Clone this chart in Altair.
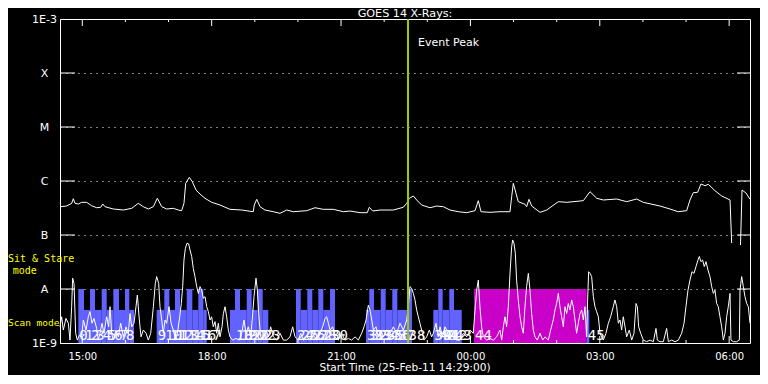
import altair as alt
import pandas as pd

TITLE = "GOES 14 X-Rays:"
X_TITLE = "Start Time (25-Feb-11 14:29:00)"
EVENT_TEXT = "Event Peak"

# GOES 14 flux: (minutes after 25-Feb-11 14:29:00, W/m^2); None = data gap
goes_points = [
    (0, 3.34e-7), (9.3, 3.44e-7), (16.3, 3.86e-7), (18.5, 4.7e-7), (20.9, 3.86e-7),
    (25.5, 3.75e-7), (30.2, 4.03e-7), (37.1, 4.03e-7), (44.1, 3.48e-7), (51.1, 3.2e-7),
    (56.6, 3.26e-7), (59.4, 3.75e-7), (62.6, 3.34e-7), (74.2, 3.03e-7), (88.1, 2.9e-7),
    (99.8, 3.12e-7), (108.9, 3.86e-7), (115.9, 3.34e-7), (122.9, 3.03e-7), (129.8, 3.34e-7),
    (135.4, 4.78e-7), (141.5, 3.34e-7), (148.5, 3.03e-7), (157.6, 3.12e-7), (164.6, 2.9e-7),
    (169.3, 2.82e-7), (172.5, 3.86e-7), (174.9, 9.06e-7), (179.9, 1.17e-6), (184.1, 9.7e-7),
    (189.2, 6.8e-7), (194.8, 5.74e-7), (201.7, 4.78e-7), (211.1, 4.03e-7), (222.6, 3.59e-7),
    (236.5, 2.99e-7), (252.8, 2.9e-7), (268.9, 2.7e-7), (270.3, 3.59e-7), (273.7, 4.58e-7),
    (278.3, 3.34e-7), (285.2, 2.9e-7), (296.8, 2.7e-7), (306.1, 2.52e-7), (315.4, 2.9e-7),
    (324.6, 2.7e-7), (343.2, 2.82e-7), (354.8, 3.2e-7), (366.3, 2.99e-7), (380.2, 2.99e-7),
    (394.2, 2.7e-7), (403.5, 2.78e-7), (417.4, 2.59e-7), (427.5, 2.59e-7), (430.3, 3.26e-7),
    (435.1, 2.78e-7), (445.2, 2.9e-7), (463.7, 2.9e-7), (477.6, 3.26e-7), (482.4, 3.86e-7),
    (486.0, 4.78e-7), (491.6, 5.28e-7), (496.3, 4.45e-7), (503.2, 3.59e-7), (514.8, 3.2e-7),
    (524.1, 3.44e-7), (533.3, 3.34e-7), (542.6, 2.9e-7), (554.2, 2.7e-7), (565.8, 2.59e-7),
    (577.4, 2.82e-7), (582.0, 4.32e-7), (585.7, 2.7e-7), (598.3, 2.63e-7), (612.2, 2.7e-7),
    (626.1, 2.7e-7), (628.4, 5.12e-7), (630.7, 9.06e-7), (634.4, 5.92e-7), (637.6, 4.14e-7),
    (647.0, 3.7e-7), (649.3, 3.34e-7), (652.5, 4.58e-7), (656.3, 3.44e-7), (667.8, 2.63e-7),
    (677.1, 2.9e-7), (693.3, 4.14e-7), (705.0, 4.03e-7), (728.1, 4.32e-7), (737.4, 6.34e-7),
    (746.7, 4.78e-7), (755.9, 4.45e-7), (774.5, 4.64e-7), (788.4, 4.14e-7), (802.4, 4.64e-7),
    (811.5, 4.03e-7), (834.8, 3.44e-7), (848.7, 3.03e-7), (860.2, 2.7e-7), (871.9, 2.82e-7),
    (876.5, 4.45e-7), (881.1, 6.07e-7), (887.2, 6.18e-7), (891.8, 8.8e-7), (897.4, 8.19e-7),
    (902.0, 8.69e-7), (911.3, 6.61e-7), (920.6, 5.28e-7), (932.2, 4.45e-7), (934.5, 7.1e-8),
    (940.0, None), (946.8, 6.5e-8), (948.9, 6.8e-7), (954.4, 6.0e-7), (960.0, 4.58e-7),
]

# lower-panel count rate: (minutes after start, counts)
rate_points = [
    (0, 50), (2.3, 81), (4.6, 40), (8.3, 76), (11.6, 61), (13.9, 9), (16.2, 112), (17.6, 200),
    (19.5, 184), (21.8, 30), (24.1, 9), (26.9, 24), (30.1, 19), (32.5, 71), (36.2, 40), (39.4, 81),
    (41.7, 97), (44.5, 61), (47.3, 76), (51, 45), (53.3, 9), (55.7, 30), (58.4, 61), (61.2, 30),
    (64.9, 81), (67.7, 50), (69.6, 112), (71.9, 30), (74.2, 9), (77.9, 40), (81.2, 19), (84.4, 61),
    (88.1, 19), (91.8, 50), (95.1, 30), (97.4, 91), (99.7, 50), (103, 61), (105.7, 112), (107.6, 148),
    (110.4, 71), (112.7, 19), (116, 40), (119.7, 30), (122.9, 9), (126.2, 30), (129.9, 112), (132.6, 184),
    (134.5, 205), (137.3, 184), (139.1, 112), (141.5, 71), (143.8, 30), (146.1, 71), (148.4, 61), (151.7, 112),
    (154.5, 61), (157.7, 40), (160.5, 9), (163.3, 30), (166, 71), (168.8, 122), (170.7, 174), (172.5, 256),
    (174.4, 292), (176.7, 308), (179, 306), (180.9, 287), (183.2, 267), (185.5, 230), (187.8, 205), (190.2, 174),
    (192.5, 153), (194.8, 174), (197.1, 163), (199.4, 138), (201.8, 143), (204.1, 112), (206.4, 97), (208.7, 71),
    (211, 81), (213.3, 50), (215.7, 66), (218, 30), (220.3, 61), (222.6, 19), (225.4, 50), (227.3, 91),
    (229.6, 112), (231.9, 81), (234.2, 40), (236.5, 19), (240.2, 9), (244.9, 14), (249.5, 9), (252.8, 30),
    (256, 71), (258.8, 30), (262, 50), (265.3, 19), (268.1, 91), (269.9, 143), (272.7, 200), (274.6, 163),
    (276.4, 91), (279.2, 19), (282.9, 9), (286.6, 40), (289.9, 19), (293.1, 50), (296.8, 19), (301.5, 9),
    (306.1, 30), (310.7, 9), (315.4, 9), (320, 19), (323.7, 50), (327, 19), (331.6, 9), (334.9, 30),
    (338.6, 9), (343.2, 19), (347.9, 9), (352.5, 24), (357.1, 9), (361.8, 30), (365.5, 50), (368.7, 76),
    (371, 81), (373.4, 61), (375.7, 40), (379.4, 50), (382.6, 19), (387.3, 9), (391.9, 30), (396.5, 9),
    (401.2, 14), (405.8, 9), (410.5, 19), (415.1, 9), (419.7, 30), (423, 50), (425.8, 71), (429, 117),
    (431.3, 102), (433.7, 71), (436, 40), (439.7, 50), (442.9, 19), (446.2, 40), (449.9, 19), (454.5, 40),
    (459.2, 30), (463.8, 50), (468.4, 30), (473.1, 61), (477.7, 40), (482.4, 71),
    (484.6, 112), (486.9, 174), (489.2, 169), (491.6, 153), (493.9, 133), (496.2, 102), (498.5, 81), (500.8, 61),
    (503.1, 40), (506.4, 9), (510.1, 19), (513.8, 40), (517.1, 19), (519.4, 30), (523.1, 61), (526.3, 19),
    (528.7, 50), (532.4, 19), (535.6, 50), (537.9, 40), (541.6, 9), (544.9, 40), (547.2, 19), (551.8, 9),
    (556.5, 9), (561.1, 30), (565.8, 19), (570.4, 40), (575, 30), (577.8, 112), (579.7, 163), (582, 194),
    (584.3, 112), (586.6, 50), (589, 19), (593.6, 9), (598.2, 14), (602.9, 9), (607.5, 19), (612.1, 40),
    (614.5, 9), (616.8, 50), (619.1, 81), (621.4, 50), (623.7, 112), (626.1, 215), (628.4, 297), (629.8, 318),
    (631.6, 308), (633.5, 277), (635.3, 194), (637.6, 133), (640, 81), (642.3, 50), (644.6, 30), (646.9, 112),
    (649.2, 174), (651.6, 215), (653.9, 163), (656.2, 91), (658.5, 40), (660.8, 19), (664.1, 9), (667.8, 30),
    (671.5, 9), (674.8, 19), (679.4, 9), (682.6, 40), (686.3, 71), (688.7, 102), (691, 122), (693.3, 153),
    (695.6, 112), (697.9, 81), (700.3, 50), (702.6, 112), (704.9, 91), (707.2, 122), (709.5, 102), (711.9, 133),
    (714.2, 112), (716.5, 71), (718.8, 30), (721.1, 61), (723.5, 91), (725.8, 102), (728.1, 71), (730.4, 112),
    (732.7, 19), (734.1, 133), (735.5, 220), (737.4, 215), (739.7, 205), (742, 143), (744.3, 112), (746.6, 97),
    (749, 81), (751.3, 30), (753.6, 19), (755.9, 9), (759.6, 30), (762.9, 61), (766.1, 81), (769.8, 112),
    (772.1, 133), (774.5, 112), (776.8, 61), (779.1, 71), (781.4, 40), (783.7, 81), (786.1, 50), (788.4, 19),
    (792.1, 40), (795.4, 9), (798.6, 30), (801.4, 122), (803.3, 112), (805.1, 50), (807.9, 30), (811.6, 9),
    (816.2, 4), (820.9, 9), (825.5, 4), (829.2, 45), (831.1, 9), (834.8, 4), (839.4, 4), (844, 45),
    (846.4, 4), (851, 9), (855.6, 4), (860.3, 9), (864.9, 30), (868.2, 61), (870.9, 112), (873.7, 163),
    (876.5, 194), (879.3, 220), (882.1, 215), (884.9, 236), (887.6, 256), (889.5, 267), (891.8, 251), (894.1, 256),
    (896.4, 236), (898.8, 251), (901.6, 225), (904.3, 205), (906.7, 174), (909, 153), (911.3, 163), (913.6, 122),
    (915.9, 112), (918.2, 81), (920.6, 50), (922.9, 9), (925.2, 30), (927.5, 81), (929.8, 112), (932.2, 153),
    (933.5, 9), (936.8, 4), (941.4, 4), (945.2, 9), (946.1, 163), (948.4, 205), (950.7, 174), (953, 143),
    (955.4, 122), (957.7, 112), (960, 61),
]

# observing-mode segments: (start min, end min, level, kind)
mode_segments = [
    (25.5, 33.4, "full", "scan"), (33.4, 41.7, "half", "scan"), (41.7, 48.7, "full", "scan"),
    (48.7, 58.0, "half", "scan"), (58.0, 65.0, "full", "scan"), (65.0, 74.2, "half", "scan"),
    (74.2, 82.1, "full", "scan"), (82.1, 90.4, "half", "scan"), (90.4, 96.4, "full", "scan"),
    (96.4, 103.0, "half", "scan"),
    (134.5, 145.1, "half", "scan"), (145.1, 152.1, "full", "scan"), (152.1, 160.0, "half", "scan"),
    (160.0, 167.0, "full", "scan"), (167.0, 176.3, "half", "scan"), (176.3, 184.1, "full", "scan"),
    (184.1, 192.4, "half", "scan"), (192.4, 199.4, "full", "scan"), (199.4, 204.1, "half", "scan"),
    (236.5, 243.5, "half", "scan"), (243.5, 250.4, "full", "scan"), (250.4, 259.8, "half", "scan"),
    (259.8, 266.7, "full", "scan"), (266.7, 275.1, "half", "scan"), (275.1, 282.0, "full", "scan"),
    (282.0, 289.8, "half", "scan"),
    (328.3, 334.9, "full", "scan"), (334.9, 344.1, "half", "scan"), (344.1, 351.0, "full", "scan"),
    (351.0, 359.4, "half", "scan"), (359.4, 366.3, "full", "scan"), (366.3, 375.7, "half", "scan"),
    (375.7, 382.6, "full", "scan"),
    (425.7, 430.3, "half", "scan"), (430.3, 436.9, "full", "scan"), (436.9, 446.2, "half", "scan"),
    (446.2, 453.1, "full", "scan"), (453.1, 462.3, "half", "scan"), (462.3, 469.3, "full", "scan"),
    (469.3, 483.5, "half", "scan"), (483.5, 489.7, "full", "scan"),
    (519.4, 526.3, "half", "scan"), (526.3, 532.4, "full", "scan"), (532.4, 541.6, "half", "scan"),
    (541.6, 548.2, "full", "scan"), (548.2, 558.9, "half", "scan"),
    (576.0, 732.8, "full", "stare"),
    (732.8, 736.4, "half", "scan"),
]
mode_level_flux = {"full": 1e-8, "half": 4.1e-9}

# pointing numbers written at segment starts
label_minutes = [25.5, 33.4, 41.7, 48.7, 58.0, 65.0, 74.2, 82.1, 90.4,
                 134.5, 145.1, 152.1, 160.0, 167.0, 176.3, 184.1, 192.4, 199.4,
                 243.5, 250.4, 259.8, 266.7, 275.1, 282.0,
                 328.3, 334.9, 344.1, 351.0, 359.4, 366.3, 375.7,
                 425.7, 430.3, 436.9, 446.2, 453.1, 462.3, 469.3, 483.5,
                 519.4, 526.3, 532.4, 541.6, 548.2, 576.0, 732.8]
label_texts = ["0", "1", "2", "3", "4", "5", "6", "7", "8", "9", "10", "11", "12", "13", "14", "15",
               "16", "17", "18", "19", "20", "21", "22", "23", "24", "25", "26", "27", "28", "29", "30",
               "31", "32", "33", "34", "35", "36", "37", "38", "39", "40", "41", "42", "43", "44", "45"]

event_minute = 484.2

tick_minutes = [31, 211, 391, 571, 751, 931]
tick_labels = ["15:00", "18:00", "21:00", "00:00", "03:00", "06:00"]
minor_minutes = [91, 151, 271, 331, 451, 511, 631, 691, 811, 871]

flux_levels = [1e-9, 1e-8, 1e-7, 1e-6, 1e-5, 1e-4, 1e-3]
flux_labels = ["1E-9", "A", "B", "C", "M", "X", "1E-3"]

# ---------------------------------------------------------------- data frames
goes_df = pd.DataFrame(goes_points, columns=["minute", "flux"])
rate_df = pd.DataFrame(rate_points, columns=["minute", "count"])
mode_df = pd.DataFrame(mode_segments, columns=["start", "end", "level", "kind"])
mode_df["top"] = mode_df["level"].map(mode_level_flux)
mode_df["bottom"] = flux_levels[0]
lab_df = pd.DataFrame({"minute": label_minutes, "txt": label_texts})
lev_df = pd.DataFrame({"level": flux_levels[1:-1]})
major_df = pd.DataFrame({"minute": tick_minutes})
minor_df = pd.DataFrame({"minute": minor_minutes})
event_df = pd.DataFrame({"minute": [event_minute], "txt": [EVENT_TEXT]})

W, H = 690, 324
FONT = "DejaVu Sans"
xs = alt.Scale(domain=[0, 960], nice=False, zero=False)
ys = alt.Scale(type="log", domain=[flux_levels[0], flux_levels[-1]], nice=False)

xlabel_expr = "{}[indexof({}, datum.value)]".format(
    str(tick_labels).replace('"', "'"), str(tick_minutes))
ylabel_expr = "{}[round(log(datum.value)/LN10)+9]".format(str(flux_labels).replace('"', "'"))

x_axis = alt.Axis(values=tick_minutes, labelExpr=xlabel_expr, grid=False, ticks=False, tickSize=0,
                  domain=False, labelColor="white", labelFont=FONT, labelFontSize=10,
                  labelPadding=8, title=None, labelFlush=False, labelOverlap=False)
y_axis = alt.Axis(values=flux_levels, labelExpr=ylabel_expr, grid=True, gridDash=[1, 5],
                  gridColor="white", gridOpacity=1, ticks=False, tickSize=0, domain=False,
                  labelAlign="center", labelBaseline="middle", labelPadding=16,
                  labelColor="white", labelFont=FONT, labelFontSize=11, labelFlush=True,
                  labelFlushOffset=0, labelOverlap=False, title=None)


def xenc(field):
    return alt.X(field, type="quantitative", scale=xs, axis=x_axis)


bars = alt.Chart(mode_df).mark_rect().encode(
    x=xenc("start"),
    x2="end:Q",
    y=alt.Y("top:Q", scale=ys, axis=y_axis),
    y2="bottom:Q",
    color=alt.Color("kind:N", scale=alt.Scale(domain=["scan", "stare"], range=["#6262ff", "#c800c8"]),
                    legend=None),
)

rate = alt.Chart(rate_df).mark_line(color="white", strokeWidth=1).encode(
    x=xenc("minute"),
    y=alt.Y("count:Q", scale=alt.Scale(domain=[0, 1000], nice=False, zero=False), axis=None),
)

numbers = alt.Chart(lab_df).mark_text(
    color="white", font="DejaVu Sans Mono", fontSize=14, align="left", baseline="alphabetic", dx=1
).encode(x=xenc("minute"), y=alt.value(H - 3), text="txt:N")

goes = alt.Chart(goes_df).mark_line(color="white", strokeWidth=1).encode(
    x=xenc("minute"),
    y=alt.Y("flux:Q", scale=ys, axis=None),
)

left_ticks = alt.Chart(lev_df).mark_rule(color="white").encode(
    y=alt.Y("level:Q", scale=ys, axis=None), x=alt.value(0), x2=alt.value(15))
right_ticks = alt.Chart(lev_df).mark_rule(color="white").encode(
    y=alt.Y("level:Q", scale=ys, axis=None), x=alt.value(W - 13), x2=alt.value(W))

top_major = alt.Chart(major_df).mark_rule(color="white").encode(
    x=xenc("minute"), y=alt.value(0), y2=alt.value(7))
top_minor = alt.Chart(minor_df).mark_rule(color="white").encode(
    x=xenc("minute"), y=alt.value(0), y2=alt.value(3))
bot_major = alt.Chart(major_df).mark_rule(color="white").encode(
    x=xenc("minute"), y=alt.value(H), y2=alt.value(H - 7))
bot_minor = alt.Chart(minor_df).mark_rule(color="white").encode(
    x=xenc("minute"), y=alt.value(H), y2=alt.value(H - 3))

event_line = alt.Chart(event_df).mark_rule(color="#9ccc00", strokeWidth=2).encode(x=xenc("minute"))
event_text = alt.Chart(event_df).mark_text(
    color="white", font=FONT, fontSize=11, align="left", baseline="middle", dx=10
).encode(x=xenc("minute"), y=alt.value(24), text="txt:N")


def note(txt, x, y, color="white", size=11, align="center", font=FONT):
    return alt.Chart(pd.DataFrame({"t": [txt]})).mark_text(
        color=color, font=font, fontSize=size, align=align, baseline="middle"
    ).encode(x=alt.value(x), y=alt.value(y), text="t:N")


title = note(TITLE, W / 2, -5.2, size=11.2)
xtitle = note(X_TITLE, W / 2, H + 25, size=10.6)
sit1 = note("Sit & Stare", -52, 240, color="#ffff00", size=10, align="left", font="DejaVu Sans Mono")
sit2 = note("mode", -47.3, 252, color="#ffff00", size=10, align="left", font="DejaVu Sans Mono")
scan = note("Scan mode", -52, 304, color="#ffff00", size=9.5, align="left", font="DejaVu Sans Mono")

chart = alt.layer(
    bars, rate, numbers, goes, left_ticks, right_ticks, top_major, top_minor, bot_major, bot_minor,
    event_line, event_text, title, xtitle, sit1, sit2, scan,
).resolve_scale(y="independent").properties(
    width=W, height=H,
    autosize=alt.AutoSizeParams(type="none"),
    padding={"left": 52, "top": 11, "right": 10, "bottom": 32},
    background="black",
    usermeta={"embedOptions": {"defaultStyle": "body{background:#000}"}},
).configure_view(stroke="white", strokeWidth=1)

chart.save("out.html", embed_options={"renderer": "svg", "actions": False})
